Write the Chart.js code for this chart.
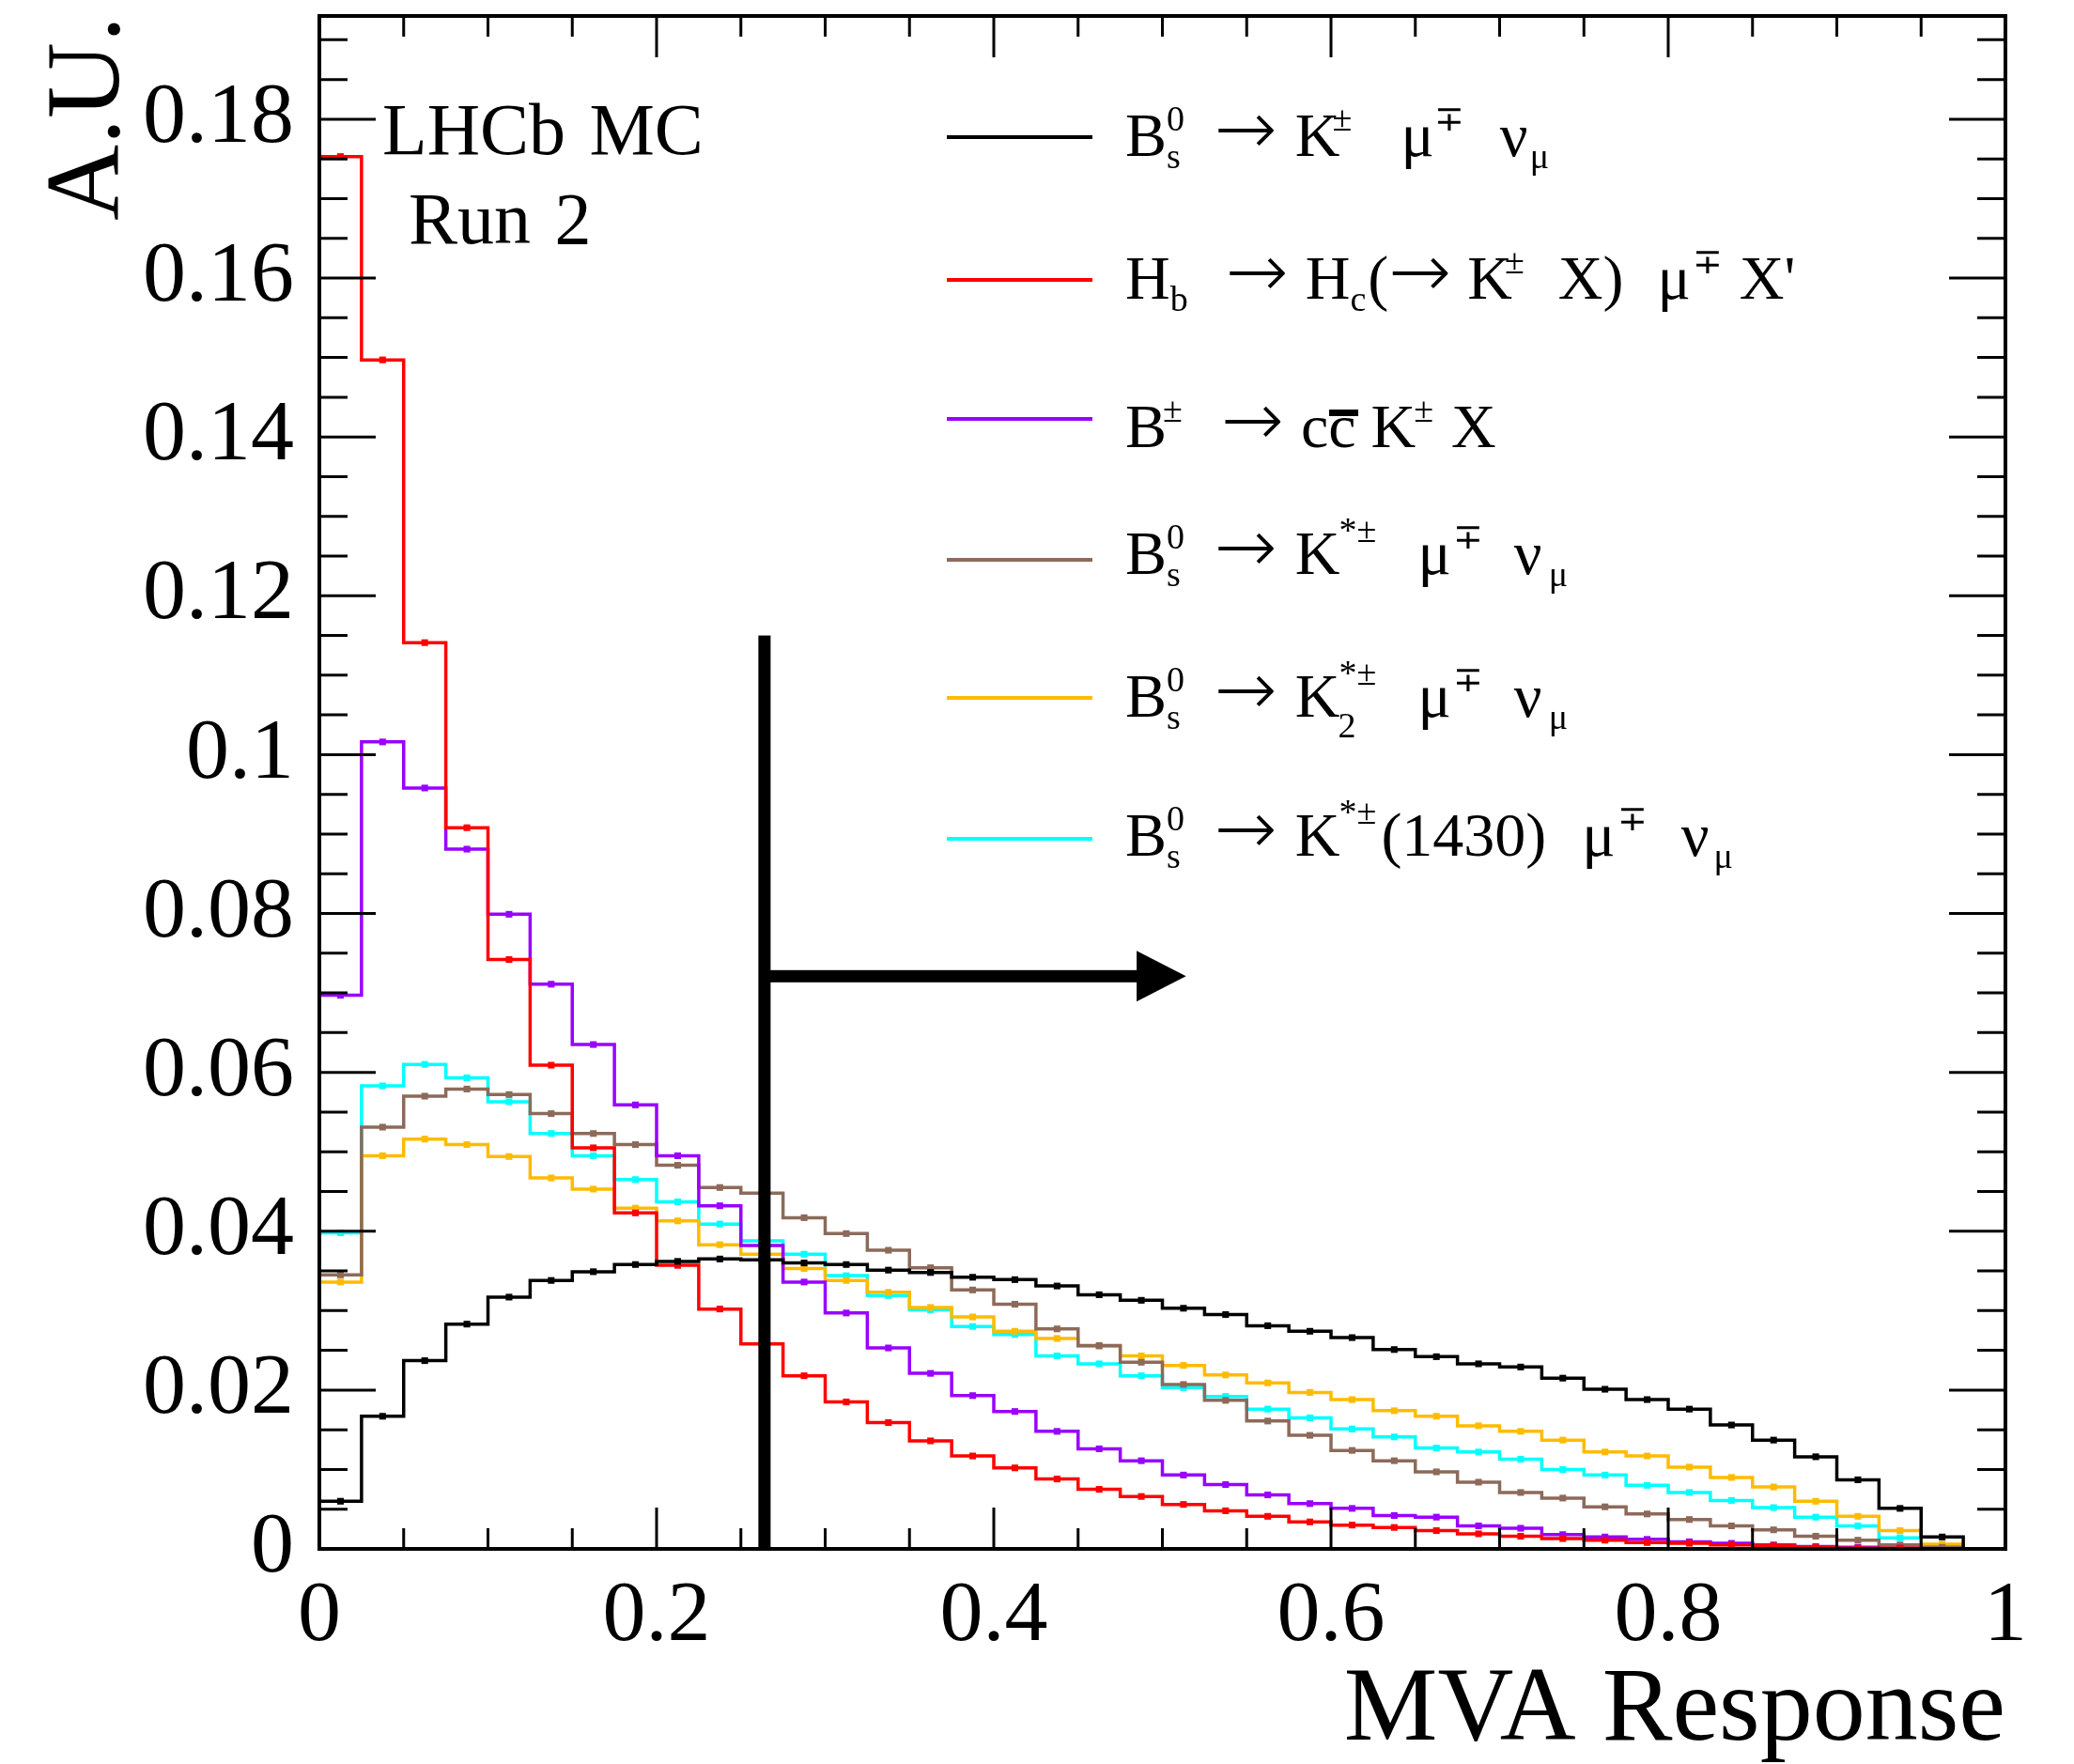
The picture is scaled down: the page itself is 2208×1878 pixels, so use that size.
<!DOCTYPE html>
<html>
<head>
<meta charset="utf-8">
<title>MVA Response</title>
<script src="https://cdn.jsdelivr.net/npm/chart.js@4.4.1/dist/chart.umd.min.js"></script>
<style>
  body { margin: 0; background: #fff; }
  #wrap { position: relative; width: 2208px; height: 1878px; font-family: 'Liberation Serif', 'Times New Roman', serif; color: #000; }
  #plot { position: absolute; left: 0; top: 0; }
  .note { position: absolute; font-size: 78px; line-height: 80px; white-space: nowrap; word-spacing: 6px; }
  .swatch { position: absolute; left: 1008px; width: 155px; height: 4px; }
  .tx { position: absolute; left: 1198px; font-size: 66px; line-height: 66px; white-space: nowrap; }
  .tx span { position: relative; }
  .tx .ar { font-family: 'DejaVu Sans', sans-serif; font-weight: 200; font-size: 80px; line-height: 0; top: -2px; }
  .tx .up, .tx .dn, .tx .up2, .tx .dn2 { font-size: 38px; line-height: 0; }
  .tx .up { top: -27px; }
  .tx .up2 { top: -34px; }
  .tx .dn { top: 13px; }
  .tx .dn2 { top: 22px; }
  .tx .bar::before { content: ''; position: absolute; left: 1px; right: -2px; top: 19px; height: 7px; background: #000; }
</style>
</head>
<body>
<div id="wrap">
  <canvas id="plot" width="2208" height="1878"></canvas>

  <div class="note" style="left:407px; top:98px">LHCb MC</div>
  <div class="note" style="left:435px; top:193px">Run 2</div>

  <div class="swatch" style="top:144px; background:#000000"></div>
  <div class="swatch" style="top:296px; background:#ff0000"></div>
  <div class="swatch" style="top:444px; background:#9900ff"></div>
  <div class="swatch" style="top:594px; background:#8c6a5a"></div>
  <div class="swatch" style="top:741px; background:#ffbb00"></div>
  <div class="swatch" style="top:891px; background:#00ffff"></div>

  <div class="tx" style="top:111px">B<span class="up">0</span><span class="dn" style="margin-left:-19px">s</span><span class="ar" style="margin-left:36px">→</span><span style="margin-left:19px">K</span><span class="up" style="margin-left:-8px">±</span><span style="margin-left:52px">μ</span><span class="up">∓</span><span style="margin-left:38px">ν</span><span class="dn" style="margin-left:2px">μ</span></div>
  <div class="tx" style="top:263px">H<span class="dn">b</span><span class="ar" style="margin-left:40px">→</span><span style="margin-left:18px">H</span><span class="dn">c</span><span style="margin-left:2px">(</span><span class="ar">→</span><span style="margin-left:17px">K</span><span class="up" style="margin-left:-8px">±</span><span style="margin-left:36px">X)</span><span style="margin-left:36px">μ</span><span class="up" style="margin-left:2px">∓</span><span style="margin-left:18px">X'</span></div>
  <div class="tx" style="top:421px">B<span class="up" style="margin-left:-4px">±</span><span class="ar" style="margin-left:41px">→</span><span style="margin-left:18px">c</span><span class="bar">c</span><span style="margin-left:16px">K</span><span class="up" style="margin-left:-2px">±</span><span style="margin-left:19px">X</span></div>
  <div class="tx" style="top:556px">B<span class="up">0</span><span class="dn" style="margin-left:-19px">s</span><span class="ar" style="margin-left:36px">→</span><span style="margin-left:19px">K</span><span class="up2" style="margin-left:-1px">*±</span><span style="margin-left:44px">μ</span><span class="up" style="margin-left:2px">∓</span><span style="margin-left:33px">ν</span><span class="dn" style="margin-left:7px">μ</span></div>
  <div class="tx" style="top:708px">B<span class="up">0</span><span class="dn" style="margin-left:-19px">s</span><span class="ar" style="margin-left:36px">→</span><span style="margin-left:19px">K</span><span class="dn2" style="margin-left:-2px">2</span><span class="up2" style="margin-left:-18px">*±</span><span style="margin-left:44px">μ</span><span class="up" style="margin-left:2px">∓</span><span style="margin-left:33px">ν</span><span class="dn" style="margin-left:7px">μ</span></div>
  <div class="tx" style="top:856px">B<span class="up">0</span><span class="dn" style="margin-left:-19px">s</span><span class="ar" style="margin-left:36px">→</span><span style="margin-left:19px">K</span><span class="up2" style="margin-left:-1px">*±</span><span style="margin-left:5px">(1430)</span><span style="margin-left:38px">μ</span><span class="up" style="margin-left:2px">∓</span><span style="margin-left:36px">ν</span><span class="dn" style="margin-left:5px">μ</span></div>
</div>

<script>
// 40 bins of width 0.025 on the MVA response
const binEdges = [0, 0.025, 0.05, 0.075, 0.1, 0.125, 0.15, 0.175, 0.2, 0.225,
  0.25, 0.275, 0.3, 0.325, 0.35, 0.375, 0.4, 0.425, 0.45, 0.475,
  0.5, 0.525, 0.55, 0.575, 0.6, 0.625, 0.65, 0.675, 0.7, 0.725,
  0.75, 0.775, 0.8, 0.825, 0.85, 0.875, 0.9, 0.925, 0.95, 0.975, 1.0];

// normalised bin contents (A.U.)
const bsKMuNu = [0.0060, 0.0167, 0.0237, 0.0283, 0.0317, 0.0338, 0.0349, 0.0358, 0.0362, 0.0365,
  0.0364, 0.0360, 0.0358, 0.0351, 0.0348, 0.0342, 0.0339, 0.0331, 0.0320, 0.0313,
  0.0303, 0.0295, 0.0281, 0.0274, 0.0266, 0.0251, 0.0242, 0.0233, 0.0229, 0.0215,
  0.0201, 0.0188, 0.0176, 0.0156, 0.0137, 0.0116, 0.0087, 0.0051, 0.0015, 0];
const hbHcMuX = [0.1753, 0.1497, 0.1141, 0.0908, 0.0742, 0.0609, 0.0505, 0.0423, 0.0357, 0.0302,
  0.0258, 0.0218, 0.0185, 0.0159, 0.0136, 0.0117, 0.0102, 0.0088, 0.0075, 0.0066,
  0.0056, 0.0048, 0.0041, 0.0034, 0.0030, 0.0027, 0.0023, 0.0019, 0.0016, 0.0013,
  0.0011, 0.0008, 0.0007, 0.0005, 0.0004, 0.0002, 0.0001, 0.0001, 0, 0];
const bpCcKX = [0.0697, 0.1016, 0.0958, 0.0881, 0.0799, 0.0711, 0.0635, 0.0559, 0.0495, 0.0432,
  0.0382, 0.0336, 0.0297, 0.0253, 0.0221, 0.0193, 0.0173, 0.0148, 0.0126, 0.0111,
  0.0093, 0.0081, 0.0068, 0.0057, 0.0051, 0.0042, 0.0040, 0.0029, 0.0026, 0.0018,
  0.0015, 0.0012, 0.0009, 0.0007, 0.0005, 0.0003, 0.0002, 0.0001, 0, 0];
const bsKstMuNu = [0.0345, 0.0531, 0.0570, 0.0579, 0.0572, 0.0548, 0.0523, 0.0509, 0.0483, 0.0455,
  0.0448, 0.0417, 0.0397, 0.0376, 0.0354, 0.0326, 0.0308, 0.0277, 0.0256, 0.0235,
  0.0207, 0.0187, 0.0161, 0.0143, 0.0124, 0.0111, 0.0097, 0.0084, 0.0071, 0.0064,
  0.0053, 0.0044, 0.0037, 0.0029, 0.0024, 0.0016, 0.0011, 0.0005, 0.0002, 0];
const bsK2stMuNu = [0.0336, 0.0495, 0.0516, 0.0509, 0.0494, 0.0467, 0.0453, 0.0429, 0.0413, 0.0383,
  0.0371, 0.0353, 0.0338, 0.0323, 0.0304, 0.0292, 0.0274, 0.0265, 0.0255, 0.0243,
  0.0231, 0.0219, 0.0209, 0.0197, 0.0188, 0.0174, 0.0167, 0.0155, 0.0148, 0.0137,
  0.0122, 0.0117, 0.0103, 0.0090, 0.0078, 0.0060, 0.0041, 0.0023, 0.0006, 0];
const bsK1430MuNu = [0.0398, 0.0583, 0.0610, 0.0593, 0.0563, 0.0523, 0.0495, 0.0465, 0.0437, 0.0409,
  0.0388, 0.0371, 0.0344, 0.0319, 0.0301, 0.0280, 0.0270, 0.0243, 0.0233, 0.0218,
  0.0203, 0.0192, 0.0176, 0.0165, 0.0151, 0.0141, 0.0127, 0.0122, 0.0113, 0.0100,
  0.0093, 0.0080, 0.0071, 0.0061, 0.0052, 0.0040, 0.0029, 0.0014, 0.0004, 0];

const seriesNames = ['Bs -> K mu nu', 'Hb -> Hc(-> K X) mu X\'', 'B -> ccbar K X',
  'Bs -> K* mu nu', 'Bs -> K2* mu nu', 'Bs -> K*(1430) mu nu'];
const seriesValues = [bsKMuNu, hbHcMuX, bpCcKX, bsKstMuNu, bsK2stMuNu, bsK1430MuNu];
const seriesColors = ['#000000', '#ff0000', '#9900ff', '#8c6a5a', '#ffbb00', '#00ffff'];

const xTickValues = [0, 0.2, 0.4, 0.6, 0.8, 1];
const xTickLabels = ['0', '0.2', '0.4', '0.6', '0.8', '1'];
const yTickValues = [0, 0.02, 0.04, 0.06, 0.08, 0.1, 0.12, 0.14, 0.16, 0.18];
const yTickLabels = ['0', '0.02', '0.04', '0.06', '0.08', '0.1', '0.12', '0.14', '0.16', '0.18'];

// selection cut on the MVA response and the arrow pointing to the kept region
const cutValue = 0.264;
const cutTop = 0.115;
const arrowLevel = 0.0721;
const arrowHeadStart = 0.4847;
const arrowTip = 0.514;

// outline: one point per lower edge, last bin closed at the upper edge
function stepPoints(vals) {
  return binEdges.map((e, i) => ({ x: e, y: vals[Math.min(i, vals.length - 1)] }));
}
// markers at the bin centres
function centrePoints(vals) {
  const pts = [];
  vals.forEach((v, i) => {
    if (v > 0) pts.push({ x: (binEdges[i] + binEdges[i + 1]) / 2, y: v });
  });
  return pts;
}

const datasets = [];
seriesValues.forEach((vals, k) => {
  datasets.push({
    label: seriesNames[k],
    data: stepPoints(vals),
    stepped: 'before',
    borderColor: seriesColors[k],
    borderWidth: 3.5,
    pointRadius: 0,
    fill: false
  });
  datasets.push({
    label: seriesNames[k] + ' (bins)',
    data: centrePoints(vals),
    showLine: false,
    pointStyle: 'rect',
    pointRadius: 5,
    pointBackgroundColor: seriesColors[k],
    pointBorderWidth: 0
  });
});

// ROOT style frame: box, inner ticks on all four sides, cut line + arrow
const rootFrame = {
  id: 'rootFrame',
  afterDatasetsDraw(chart) {
    const { ctx, chartArea: a, scales: { x, y } } = chart;
    ctx.save();
    ctx.fillStyle = '#000';
    const xc = x.getPixelForValue(cutValue);
    const yTop = y.getPixelForValue(cutTop);
    ctx.fillRect(xc - 6.5, yTop, 13, a.bottom - yTop);
    const ya = y.getPixelForValue(arrowLevel);
    const xh = x.getPixelForValue(arrowHeadStart);
    const xt = x.getPixelForValue(arrowTip);
    ctx.fillRect(xc, ya - 6.5, xh - xc + 1, 13);
    ctx.beginPath();
    ctx.moveTo(xh, ya - 27);
    ctx.lineTo(xt, ya);
    ctx.lineTo(xh, ya + 27);
    ctx.closePath();
    ctx.fill();
    ctx.restore();
  },
  afterDraw(chart) {
    const { ctx, chartArea: a, scales: { x, y } } = chart;
    ctx.save();
    ctx.strokeStyle = '#000';
    ctx.lineWidth = 3;
    ctx.beginPath();
    for (let i = 0; i <= 20; i++) {
      const px = x.getPixelForValue(i * 0.05);
      const len = i % 4 === 0 ? 44 : 22;
      ctx.moveTo(px, a.bottom); ctx.lineTo(px, a.bottom - len);
      ctx.moveTo(px, a.top); ctx.lineTo(px, a.top + len);
    }
    for (let i = 0; i * 0.005 <= y.max; i++) {
      const py = y.getPixelForValue(i * 0.005);
      const len = i % 4 === 0 ? 60 : 30;
      ctx.moveTo(a.left, py); ctx.lineTo(a.left + len, py);
      ctx.moveTo(a.right, py); ctx.lineTo(a.right - len, py);
    }
    ctx.stroke();
    ctx.lineWidth = 4;
    ctx.strokeRect(a.left, a.top, a.right - a.left, a.bottom - a.top);
    ctx.restore();
  }
};

const serif = 'Liberation Serif';

new Chart(document.getElementById('plot'), {
  type: 'line',
  data: { datasets: datasets },
  plugins: [rootFrame],
  options: {
    responsive: false,
    devicePixelRatio: 1,
    animation: false,
    layout: { padding: { top: 17, right: 73, left: 0, bottom: 0 } },
    plugins: { legend: { display: false }, tooltip: { enabled: false } },
    scales: {
      x: {
        type: 'linear',
        min: 0,
        max: 1,
        grid: { display: false, drawTicks: false },
        border: { display: false },
        afterBuildTicks: s => { s.ticks = xTickValues.map(v => ({ value: v })); },
        afterFit: s => { s.height = 229; s.paddingLeft = 0; s.paddingRight = 0; },
        ticks: {
          autoSkip: false,
          maxRotation: 0,
          padding: 18,
          color: '#000',
          font: { family: serif, size: 92 },
          callback: (v, i) => xTickLabels[i]
        },
        title: {
          display: true,
          text: 'MVA Response',
          align: 'end',
          color: '#000',
          padding: { top: 0, bottom: -12 },
          font: { family: serif, size: 112 }
        }
      },
      y: {
        min: 0,
        max: 0.193,
        grid: { display: false, drawTicks: false },
        border: { display: false },
        afterBuildTicks: s => { s.ticks = yTickValues.map(v => ({ value: v })); },
        afterFit: s => { s.width = 340; s.paddingTop = 0; s.paddingBottom = 0; },
        ticks: {
          autoSkip: false,
          padding: 27,
          color: '#000',
          font: { family: serif, size: 92 },
          callback: (v, i) => yTickLabels[i]
        },
        title: {
          display: true,
          text: 'A.U.',
          align: 'end',
          color: '#000',
          padding: { top: 29, bottom: 0 },
          font: { family: serif, size: 112 }
        }
      }
    }
  }
});
</script>
</body>
</html>
